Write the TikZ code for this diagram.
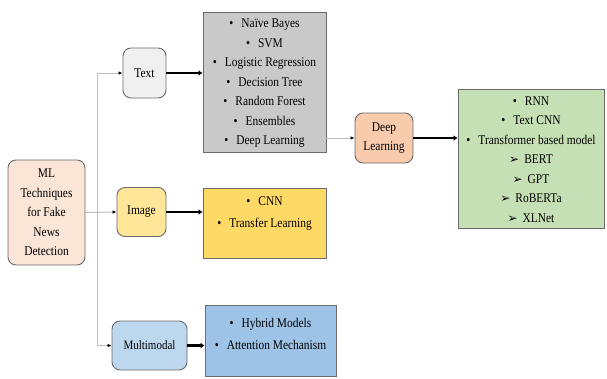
\documentclass[tikz,border=0pt]{standalone}
\usepackage{fontspec}
\setmainfont[FakeStretch=0.86]{Liberation Serif}
\newfontfamily\symfont{DejaVu Sans}
\usetikzlibrary{arrows.meta}
\definecolor{bordc}{HTML}{6B6B6B}
\definecolor{mlc}{HTML}{FBE5D6}
\definecolor{textc}{HTML}{F0F0F0}
\definecolor{grayl}{HTML}{C9C9C9}
\definecolor{imgc}{HTML}{FFE699}
\definecolor{yell}{HTML}{FFD966}
\definecolor{multc}{HTML}{BDD7EE}
\definecolor{bluel}{HTML}{9DC3E6}
\definecolor{dlc}{HTML}{F8CBAD}
\definecolor{greenl}{HTML}{C5E0B4}
\definecolor{thinc}{HTML}{BFBFBF}
\newcommand{\bul}{\textbullet\hspace{8pt}}
\newcommand{\arr}{{\symfont\fontsize{12}{12}\selectfont ➢}\hspace{5pt}}
\tikzset{
  rbox/.style={draw=bordc, line width=0.9pt, rounded corners=8pt, inner sep=0pt, align=center,
     font=\fontsize{13.3}{19.5}\selectfont},
  lbox/.style={draw=bordc, line width=0.9pt, inner sep=0pt},
  ltext/.style={inner sep=0pt, align=center, font=\fontsize{13.3}{19.5}\selectfont},
  ltext2/.style={inner sep=0pt, align=center, font=\fontsize{13.3}{22}\selectfont},
  thinarrow/.style={draw=thinc, line width=1pt, -{Latex[color=black,length=4pt,width=3.5pt]}},
  thickarrow/.style={draw=black, line width=2.6pt, -{Latex[length=4pt,width=6pt]}}
}
\begin{document}
\begin{tikzpicture}[x=1pt,y=-1pt]
\fill[white] (0,0) rectangle (607,378);
\useasboundingbox (0,0) rectangle (607,378);

% main nodes
\node[rbox, fill=mlc, minimum width=77pt, minimum height=105pt] (ml) at (46.5,212.5)
  {ML\\Techniques\\for Fake\\News\\Detection};
\node[rbox, fill=textc, minimum width=43pt, minimum height=50pt] (txt) at (144.5,73) {Text};
\node[rbox, fill=imgc, minimum width=49pt, minimum height=49pt] (img) at (141.5,212) {Image};
\node[rbox, fill=multc, minimum width=75pt, minimum height=49pt, font=\fontsize{12.8}{19}\selectfont] (multi) at (149.5,345.5) {Multimodal};
\node[rbox, fill=dlc, minimum width=58pt, minimum height=50pt] (dl) at (384,138) {Deep\\Learning};

% list boxes
\node[lbox, fill=grayl, minimum width=123pt, minimum height=140pt] (graybox) at (264.5,82) {};
\node[ltext] (graytext) at (264.5,83.5)
  {\bul Naïve Bayes\\\bul SVM\\\bul Logistic Regression\\\bul Decision Tree\\\bul Random Forest\\\bul Ensembles\\\bul Deep Learning};

\node[lbox, fill=yell, minimum width=123pt, minimum height=70pt] (yellbox) at (264.5,223) {};
\node[ltext2] (yelltext) at (264.5,214) {\bul CNN\\\bul Transfer Learning};

\node[lbox, fill=bluel, minimum width=131pt, minimum height=71pt] (bluebox) at (270.5,340.5) {};
\node[ltext2] (bluetext) at (270.5,334) {\bul Hybrid Models\\\bul Attention Mechanism};

\node[lbox, fill=greenl, minimum width=146pt, minimum height=139pt] (greenbox) at (531,158.5) {};
\node[ltext] (greentext) at (531,159.5)
  {\bul RNN\\\bul Text CNN\\\bul Transformer based model\\\arr BERT\\\arr GPT\\\arr RoBERTa\\\arr XLNet};

% thin connectors
\coordinate (j) at (97,212);
\draw[thinarrow] (ml.east) -- (img.west);
\draw[thinarrow] (j) |- (txt.west);
\draw[thinarrow] (j) |- (multi.west);
\draw[thinarrow] (graybox.east |- dl.west) -- (dl.west);

% thick connectors
\draw[thickarrow] (txt.east) -- (graybox.west |- txt.east);
\draw[thickarrow] (img.east) -- (yellbox.west |- img.east);
\draw[thickarrow] (multi.east) -- (bluebox.west |- multi.east);
\draw[thickarrow] (dl.east) -- (greenbox.west |- dl.east);
\end{tikzpicture}
\end{document}
